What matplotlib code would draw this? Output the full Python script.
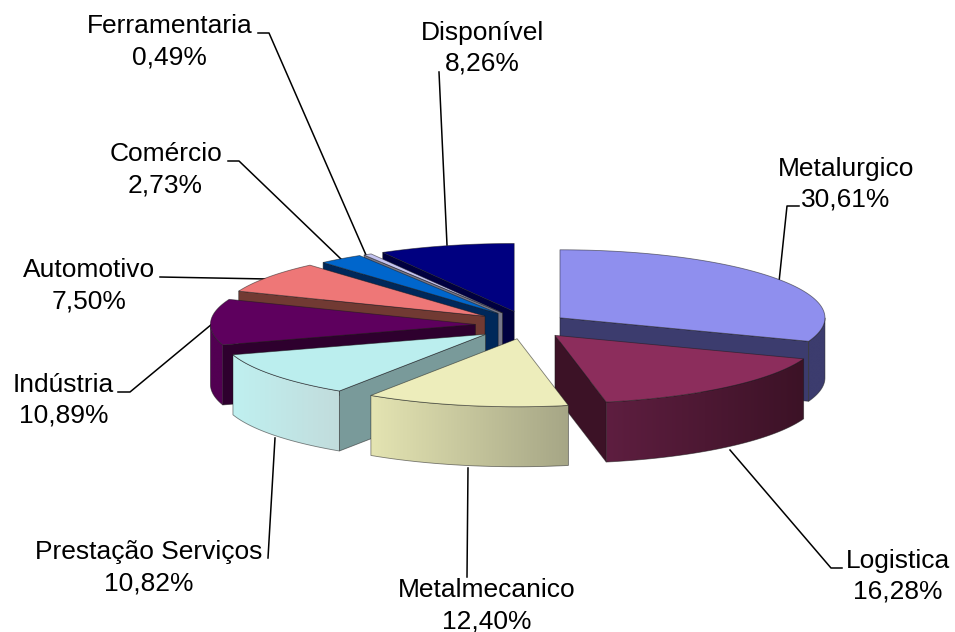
import numpy as np
import matplotlib
matplotlib.use("Agg")
import matplotlib.pyplot as plt
from matplotlib.patches import Polygon
from matplotlib.colors import to_rgb

plt.rcParams['font.family'] = ['Liberation Sans', 'DejaVu Sans']

# data
names = ['Metalurgico', 'Logistica', 'Metalmecanico', 'Prestação Serviços', 'Indústria',
         'Automotivo', 'Comércio', 'Ferramentaria', 'Disponível']
values = [30.61, 16.28, 12.40, 10.82, 10.89, 7.50, 2.73, 0.49, 8.26]

# colours: top, rim left, rim right, cut wall
top_col = ['#8f8fee', '#8c2d5c', '#ededbb', '#bbeeee', '#5e005e', '#ee7777', '#0066cc', '#c4c4f2', '#000080']
rim_l = ['#3c3c6e', '#5e1e40', '#e4e4b2', '#bff0f0', '#520052', '#713a33', '#00285a', '#555577', '#000040']
rim_r = ['#3c3c6e', '#3c1226', '#a6a686', '#c2dcdc', '#520052', '#713a33', '#00285a', '#555577', '#000040']
wall_col = ['#3c3c6e', '#3c1226', '#a6a686', '#799a9a', '#2e002e', '#713a33', '#00285a', '#777788', '#000040']

# label centre x, baseline of the first line, leader line
label_pos = [(846, 176), (898, 568), (487, 597), (149, 559), (63.5, 392), (89, 277), (165.5, 161), (169.5, 33), (482, 40)]
line_gap = 31
leaders = [
    [(799, 206), (787, 206), (779, 282)],
    [(842, 568), (831, 568), (730, 450)],
    [(467, 577), (468, 468)],
    [(268, 558), (275, 438)],
    [(118, 392), (130, 392), (212, 324)],
    [(160, 277), (268, 279)],
    [(228, 161), (239, 161), (342, 260)],
    [(258, 33), (269, 33), (366, 255)],
    [(439, 72), (447, 245)],
]

# pie geometry in pixels
cx, cy = 526, 325
rx, ry = 265, 68
ex, ey = 46, 14
depth = 60
explode = [0.9, 0.97, 1, 1.1, 1.1, 1.09, 1.02, 1, 1]

fig = plt.figure(figsize=(9.55, 6.32), dpi=100)
ax = fig.add_axes([0, 0, 1, 1])
ax.axis('off')

edge = (0.1, 0.1, 0.1, 0.55)


def ring(x0, y0, t):
    return x0 + rx * np.sin(t), y0 - ry * np.cos(t)


fracs = np.array(values) / sum(values)
stops = np.concatenate([[0], np.cumsum(fracs)]) * 2 * np.pi
mids = (stops[:-1] + stops[1:]) / 2
ax0 = cx + ex * np.array(explode) * np.sin(mids)
ay0 = cy - ey * np.array(explode) * np.cos(mids)

z = 2


def draw_slice(i):
    global z
    t0, t1 = stops[i], stops[i + 1]
    x0, y0 = ax0[i], ay0[i]
    # cut walls
    for t, show in ((t0, np.sin(t0) < -1e-6), (t1, np.sin(t1) > 1e-6)):
        if show:
            px, py = ring(x0, y0, t)
            z += 1
            ax.add_patch(Polygon([(x0, y0), (px, py), (px, py + depth), (x0, y0 + depth)],
                                 fc=wall_col[i], ec=edge, lw=0.6, zorder=z))
    # outer rim, only the front half shows
    a, b = max(t0, np.pi / 2), min(t1, 3 * np.pi / 2)
    if b > a:
        ts = np.linspace(a, b, 60)
        xs, ys = ring(x0, y0, ts)
        outline = list(zip(xs, ys)) + list(zip(xs[::-1], ys[::-1] + depth))
        lo, hi = xs.min(), xs.max()
        ramp = np.linspace(to_rgb(rim_l[i]), to_rgb(rim_r[i]), 128)[np.newaxis, :, :]
        z += 1
        im = ax.imshow(ramp, extent=(lo, hi, (ys + depth).max() + 1, ys.min() - 1),
                       aspect='auto', zorder=z, interpolation='bilinear')
        clip = Polygon(outline, transform=ax.transData, fc='none', ec='none')
        im.set_clip_path(clip)
        z += 1
        ax.add_patch(Polygon(outline, fc='none', ec=edge, lw=0.6, zorder=z))
    # top face
    ts = np.linspace(t0, t1, 80)
    xs, ys = ring(x0, y0, ts)
    pts = [(x0, y0)] + list(zip(xs, ys))
    z += 1
    ax.add_patch(Polygon(pts, fc=top_col[i], ec=edge, lw=0.6, zorder=z))


# leader lines go under the slices
for pts in leaders:
    ax.plot([p[0] for p in pts], [p[1] for p in pts], color='black', lw=1.1, zorder=1)

for i in np.argsort(ay0):
    draw_slice(i)

for i, (x, y) in enumerate(label_pos):
    pct = f"{values[i]:.2f}%".replace('.', ',')
    ax.text(x, y, names[i], ha='center', va='baseline', fontsize=19, color='black', zorder=100)
    ax.text(x, y + line_gap, pct, ha='center', va='baseline', fontsize=19, color='black', zorder=100)

ax.set_xlim(0, 955)
ax.set_ylim(632, 0)

fig.savefig('out.png', dpi=100)
